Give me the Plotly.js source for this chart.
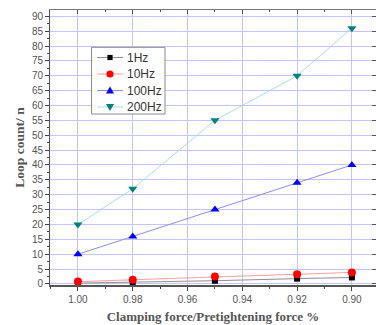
<!DOCTYPE html>
<html><head><meta charset="utf-8">
<script src="https://cdn.plot.ly/plotly-3.0.1.min.js"></script>
<style>body{margin:0;background:#fff}#c{width:376px;height:325px}</style>
</head><body><div id="c"></div>
<script>
const ratio = [1.00, 0.98, 0.95, 0.92, 0.90];
const hz1 = [0.3, 0.6, 1.1, 1.8, 2.2];
const hz10 = [0.8, 1.4, 2.5, 3.3, 3.9];
const hz100 = [10, 16, 25, 34, 40];
const hz200 = [20, 32, 55, 70, 86];
const names = ['1Hz', '10Hz', '100Hz', '200Hz'];
const xTicks = [1.00, 0.98, 0.96, 0.94, 0.92, 0.90];
const xTickText = ['1.00', '0.98', '0.96', '0.94', '0.92', '0.90'];

const series = [
  {y: hz1, line: '#909090', mc: '#000000', sym: 'square', ms: 6},
  {y: hz10, line: '#ffa0a0', mc: '#ff0000', sym: 'circle', ms: 8},
  {y: hz100, line: '#8c8cff', mc: '#0000ff', sym: 'triangle-up', ms: 8},
  {y: hz200, line: '#a8e0e0', mc: '#008080', sym: 'triangle-down', ms: 8}
];
const traces = series.map((s, i) => ({
  x: ratio, y: s.y, name: names[i], type: 'scatter', mode: 'lines+markers',
  line: {color: s.line, width: 1},
  marker: {color: s.mc, symbol: s.sym, size: s.ms},
  showlegend: false
}));
traces.push({x: [ratio[0]], y: [0], xaxis: 'x2', yaxis: 'y2', showlegend: false, mode: 'markers', marker: {opacity: 0}, hoverinfo: 'skip'});

// plot area in pixels: left 50, right 376, top 10, bottom 285
const PL = 50, PW = 326, PB = 285, PH = 275;
const px = X => (X - PL) / PW;
const py = Y => (PB - Y) / PH;

// custom legend (layout decoration)
const shapes = [];
const annotations = [];
shapes.push({type: 'rect', xref: 'paper', yref: 'paper', x0: px(91.5), x1: px(165), y0: py(114), y1: py(47.3),
  line: {color: '#8a8a8a', width: 1}, fillcolor: '#ffffff', layer: 'above'});
const itemY = [57.5, 74, 90.5, 107];
const markerPaths = {
  'square': null, 'circle': null,
  'triangle-up': 'M-4,-3L4,-3L0,4Z',
  'triangle-down': 'M-4,3L4,3L0,-4Z'
};
series.forEach((s, i) => {
  const yy = py(itemY[i]);
  shapes.push({type: 'line', xref: 'paper', yref: 'paper', x0: px(97), x1: px(123), y0: yy, y1: yy,
    line: {color: s.line, width: 1}, layer: 'above'});
  const base = {xref: 'paper', yref: 'paper', xsizemode: 'pixel', ysizemode: 'pixel', xanchor: px(110), yanchor: yy,
    fillcolor: s.mc, line: {color: s.mc, width: 0}, layer: 'above'};
  if (s.sym === 'square') shapes.push(Object.assign({type: 'rect', x0: -2.6, x1: 2.6, y0: -2.6, y1: 2.6}, base));
  else if (s.sym === 'circle') shapes.push(Object.assign({type: 'circle', x0: -3.6, x1: 3.6, y0: -3.6, y1: 3.6}, base));
  else shapes.push(Object.assign({type: 'path', path: markerPaths[s.sym]}, base));
  annotations.push({xref: 'paper', yref: 'paper', x: px(126), y: yy, xanchor: 'left', yanchor: 'middle',
    text: names[i], showarrow: false, borderpad: 0,
    font: {family: 'Liberation Sans, Arial, sans-serif', size: 12, color: '#333'}});
});

const xr = [1.0102, 0.8912], yr = [-0.34, 92.1];
const tickFont = {family: 'Liberation Sans, Arial, sans-serif', size: 10, color: '#555'};
const titleFont = {family: 'Liberation Serif, Times New Roman, serif', size: 13, color: '#555', weight: 'bold'};
const layout = {
  width: 376, height: 325,
  margin: {l: 50, r: 0, t: 10, b: 40},
  paper_bgcolor: '#fff', plot_bgcolor: '#fff',
  showlegend: false,
  shapes: shapes, annotations: annotations,
  xaxis: {range: xr, tickvals: xTicks, ticktext: xTickText, ticks: 'outside', ticklen: 4, tickcolor: '#444',
    showgrid: true, gridcolor: '#c4c4ff', gridwidth: 1, zeroline: false,
    showline: true, linecolor: '#555', linewidth: 2, tickfont: tickFont,
    minor: {dtick: 0.01, tick0: 0.9, ticks: 'outside', ticklen: 2, tickcolor: '#444', showgrid: false},
    title: {text: 'Clamping force/Pretightening force %', font: titleFont, standoff: 8}},
  yaxis: {range: yr, dtick: 5, tick0: 0, ticks: 'outside', ticklen: 4, tickcolor: '#444',
    showgrid: true, gridcolor: '#c4c4ff', gridwidth: 1, zeroline: false,
    showline: true, linecolor: '#555', linewidth: 1, tickfont: tickFont,
    minor: {dtick: 2.5, tick0: 0, ticks: 'outside', ticklen: 2, tickcolor: '#444', showgrid: false},
    title: {text: 'Loop count/ n', font: Object.assign({}, titleFont, {size: 13.5}), standoff: 4}},
  xaxis2: {overlaying: 'x', side: 'top', range: xr, tickvals: xTicks, showticklabels: false,
    ticks: 'inside', ticklen: 4, tickcolor: '#555', showgrid: false, zeroline: false,
    showline: true, linecolor: '#777', linewidth: 1,
    minor: {dtick: 0.01, tick0: 0.9, ticks: 'inside', ticklen: 2, tickcolor: '#555'}},
  yaxis2: {overlaying: 'y', side: 'right', range: yr, dtick: 5, tick0: 0, showticklabels: false,
    ticks: 'inside', ticklen: 4, tickcolor: '#555', showgrid: false, zeroline: false,
    showline: true, linecolor: '#777', linewidth: 1}
};
Plotly.newPlot('c', traces, layout, {displayModeBar: false, staticPlot: true});
</script></body></html>
